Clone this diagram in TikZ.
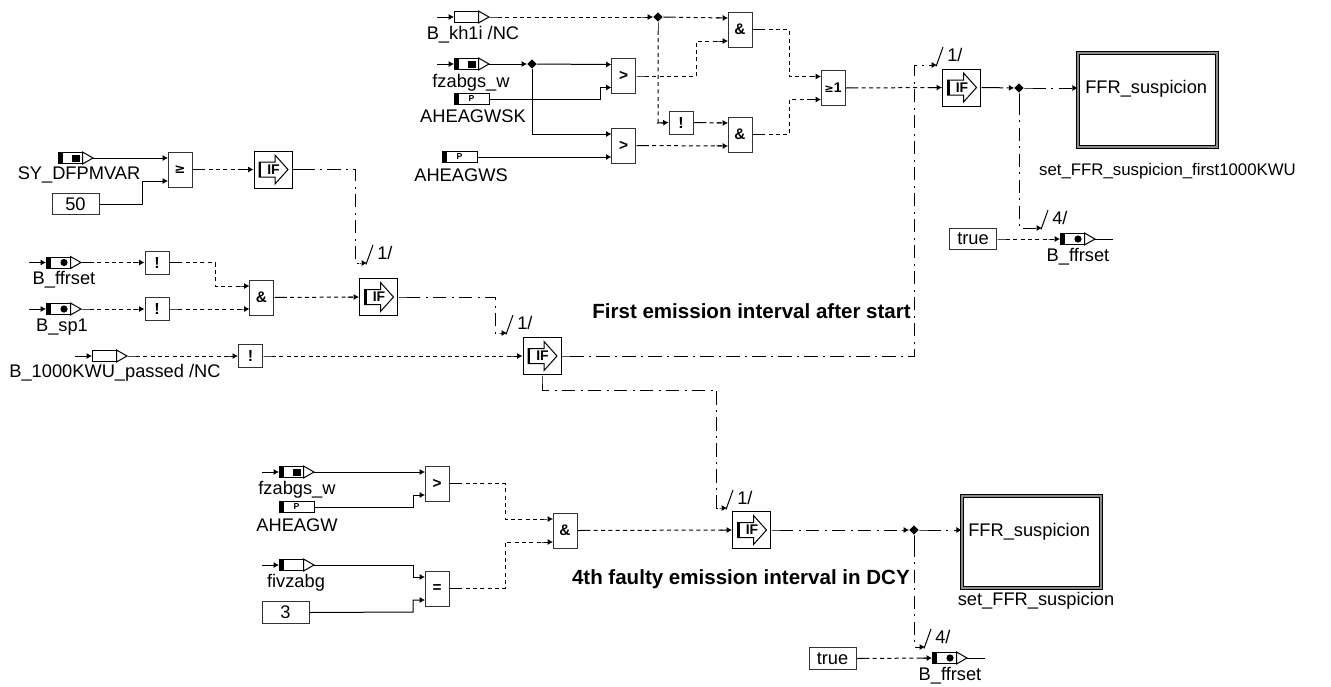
\documentclass[tikz,border=0pt]{standalone}
\usepackage{fontspec}
\setmainfont{Liberation Sans}
\newfontfamily\symfont{DejaVu Sans}
\usetikzlibrary{arrows.meta,shapes.geometric}
\tikzset{
  wire/.style={line width=.75pt},
  num/.style={wire,-{Latex[length=4pt,width=4.5pt]}},
  bool/.style={wire,dash pattern=on 3pt off 2.5pt,{Rectangle[length=7pt,width=.75pt]}-{Rectangle[length=5pt,width=.75pt]Latex[length=4pt,width=4.5pt]}},
  act/.style={wire,dash pattern=on 10pt off 4pt on 1.5pt off 4pt,{Rectangle[length=7pt,width=.75pt]}-{Rectangle[length=2pt,width=.75pt]Latex[length=4pt,width=4.5pt]}},
  gatebox/.style={draw=black!80,line width=.75pt,fill=white,minimum width=18pt,minimum height=26.25pt,inner sep=0pt,font=\fontsize{11.5}{11.5}\selectfont\bfseries},
  notbox/.style={draw=black!80,line width=.75pt,fill=white,minimum width=18pt,minimum height=17.25pt,inner sep=0pt,font=\fontsize{12}{12}\selectfont\bfseries},
  ifbox/.style={draw=black,line width=.75pt,fill=white,minimum width=28.5pt,minimum height=27.75pt,inner sep=0pt},
  portbody/.style={draw=black,line width=.75pt,fill=white,minimum width=18pt,minimum height=8.25pt,inner sep=0pt},
  parbody/.style={draw=black,line width=.75pt,fill=white,minimum width=26.25pt,minimum height=8.25pt,inner sep=0pt},
  constbox/.style={draw=black!80,line width=.75pt,fill=white,minimum width=35.25pt,minimum height=16pt,inner sep=0pt,font=\fontsize{13.7}{13.7}\selectfont},
  lab/.style={inner sep=0pt,font=\fontsize{13.7}{13.7}\selectfont},
  smalllab/.style={inner sep=0pt,font=\fontsize{12.6}{12.6}\selectfont},
  heading/.style={inner sep=0pt,font=\fontsize{15.4}{15.4}\selectfont\bfseries},
  block/.style={draw=black,line width=.6pt,double=black!45,double distance=1.5pt,fill=white,inner sep=0pt},
  junction/.style={diamond,aspect=1,fill=black,inner sep=0pt,minimum size=7pt},
}
\newcommand{\sigport}[3]{%
  \node[portbody] (#1) at (#2+12,#3) {};
  \coordinate (#1-in) at (#2,#3);
  \coordinate (#1-out) at (#2+35,#3);
  \coordinate (#1-src) at (#2-17,#3);
  \draw[line width=.75pt,fill=white] (#1.north east) -- (#1-out) -- (#1.south east) -- cycle;}
\newcommand{\pband}[2]{\fill (#1,#2-5.5) rectangle (#1+5,#2+5.5);}
\newcommand{\psq}[2]{\fill (#1+14,#2-3.5) rectangle (#1+21.5,#2+3.5);}
\newcommand{\pdot}[2]{\fill (#1+18,#2) circle (3.6);}
\newcommand{\parport}[3]{%
  \node[parbody] (#1) at (#2+17.5,#3) {};
  \coordinate (#1-out) at (#2+35,#3);
  \pband{#2}{#3}
  \node[inner sep=0pt,font=\fontsize{6.5}{6.5}\selectfont\bfseries] (#1-p) at (#2+17.5,#3) {P};}
\newcommand{\gate}[4]{%
  \node[gatebox] (#1) at (#2,#3) {#4};
  \coordinate (#1-a) at (#2-12,#3-11.5);
  \coordinate (#1-b) at (#2-12,#3+11.5);}
\newcommand{\ifblock}[3]{%
  \node[ifbox] (#1) at (#2,#3) {};
  \draw[line width=.75pt,fill=white] (#2-14,#3-7.5) -- (#2+2,#3-7.5) -- (#2+2,#3-14.5) -- (#2+15,#3) -- (#2+2,#3+14.5) -- (#2+2,#3+7.5) -- (#2-14,#3+7.5) -- cycle;
  \draw[line width=1.5pt] (#2-13,#3-7.5) -- (#2-13,#3+7.5);
  \node[inner sep=0pt,font=\fontsize{10.5}{10.5}\selectfont\bfseries] (#1-t) at (#2+0.5,#3) {IF};}
\newcommand{\ctl}[4]{%
  \coordinate (#1) at (#2,#3);
  \draw[line width=.75pt] (#2-1,#3+1.5) -- (#2+6,#3-18);
  \node[inner sep=0pt,anchor=west,font=\fontsize{13.7}{13.7}\selectfont] (#1-t) at (#2+10,#3-10) {#4};}
\begin{document}
\begin{tikzpicture}[x=.75pt,y=-.75pt]
\useasboundingbox (0,0) rectangle (1331,686);
% ---------- top logic
\sigport{kh}{454}{17}
\sigport{fzt}{454}{64} \pband{454}{64} \psq{454}{64}
\parport{ask}{454}{99}
\parport{asw}{442}{157}
\node[lab] (lkh) at (473,35) {B\_kh1i /NC};
\node[lab] (lfzt) at (471,83) {fzabgs\_w};
\node[lab] (lask) at (473,116) {AHEAGWSK};
\node[lab] (lasw) at (461,175) {AHEAGWS};
\gate{gt1}{623.5}{76}{>}
\gate{gt2}{623.5}{145.5}{>}
\gate{and1}{740}{29.5}{\&}
\gate{and2}{740}{134.5}{\&}
\gate{or1}{833}{88}{{\symfont\fontsize{8.5}{8.5}\selectfont ≥}{\fontsize{10.5}{10.5}\selectfont 1}}
\node[notbox] (not3) at (681,122.5) {!};
\ifblock{ifa}{961.5}{87.5}
\node[junction] (j1) at (658,17) {};
\node[junction] (j2) at (532,64) {};
\node[junction] (j3) at (1019,88) {};
\draw[num] (kh-src) -- (kh-in);
\draw[num] (fzt-src) -- (fzt-in);
\draw[bool] (kh-out) -- (j1);
\draw[bool] (j1) -- (and1-a);
\draw[bool] (j1) -- (658,123) -- (not3.west);
\draw[num] (fzt-out) -- (j2);
\draw[num] (j2) -- (gt1-a);
\draw[num] (j2) -- (532,134) -- (gt2-a);
\draw[num] (ask-out) -- (600,99) -- (600,87.5) -- (gt1-b);
\draw[num] (asw-out) -- (gt2-b);
\draw[bool] (gt1.east) -- (696,76) -- (696,41) -- (and1-b);
\draw[bool] (not3.east) -- (and2-a);
\draw[bool] (gt2.east) -- (and2-b);
\draw[bool] (and1.east) -- (789,29.5) -- (789,76.5) -- (or1-a);
\draw[bool] (and2.east) -- (789,134.5) -- (789,99.5) -- (or1-b);
\draw[bool] (or1.east) -- (ifa.west);
\draw[act] (ifa.east) -- (j3);
% ---------- output block 1
\node[block,minimum width=104pt,minimum height=70.5pt] (fb1) at (1147.5,100) {};
\node[lab,anchor=west] (fb1t) at (1085,89) {FFR\_suspicion};
\draw[act] (j3) -- (fb1.west |- j3);
\node[smalllab] (fb1l) at (1167.5,171) {set\_FFR\_suspicion\_first1000KWU};
\node[constbox] (tr1) at (973,239) {true};
\sigport{out1}{1060}{239} \pband{1060}{239} \pdot{1060}{239}
\coordinate (out1-end) at (1113,239);
\node[lab] (lout1) at (1078,257) {B\_ffrset};
\draw[bool] (tr1.east) -- (out1-in);
\draw[wire] (out1-out) -- (out1-end);
\ctl{c4a}{1042}{228}{4/}
\draw[act] (j3) -- (1019,228) -- (c4a);
% ---------- left logic
\sigport{sy}{58}{158} \pband{58}{158} \psq{58}{158}
\node[lab] (lsy) at (79,175) {SY\_DFPMVAR};
\node[constbox] (k50) at (75.5,204) {50};
\gate{ge}{180}{169.5}{{\symfont\fontsize{10}{10}\selectfont ≥}}
\ifblock{ifb}{273}{169.5}
\draw[num] (sy-out) -- (ge-a);
\draw[num] (k50.east) -- (142,204) -- (142,181) -- (ge-b);
\draw[bool] (ge.east) -- (ifb.west);
\sigport{ff}{46}{262.5} \pband{46}{262.5} \pdot{46}{262.5}
\node[lab] (lff) at (64,280) {B\_ffrset};
\sigport{sp}{46}{309} \pband{46}{309} \pdot{46}{309}
\node[lab] (lsp) at (62,327) {B\_sp1};
\node[notbox] (not1) at (157,262.5) {!};
\node[notbox] (not2) at (157,309) {!};
\gate{and3}{261.5}{297.5}{\&}
\ifblock{ifc}{378.5}{297}
\draw[num] (ff-src) -- (ff-in);
\draw[num] (sp-src) -- (sp-in);
\draw[bool] (ff-out) -- (not1.west);
\draw[bool] (sp-out) -- (not2.west);
\draw[bool] (not1.east) -- (215,262.5) -- (215,286) -- (and3-a);
\draw[bool] (not2.east) -- (and3-b);
\draw[bool] (and3.east) -- (ifc.west);
\ctl{c1b}{367}{263}{1/}
\draw[act] (ifb.east) -- (355,169.5) -- (355,263) -- (c1b);
\sigport{pas}{92}{356}
\node[lab] (lpas) at (115,373) {B\_1000KWU\_passed /NC};
\draw[num] (pas-src) -- (pas-in);
\node[notbox] (not4) at (250.5,356) {!};
\draw[bool] (pas-out) -- (not4.west);
\ifblock{ifd}{542}{356}
\draw[bool] (not4.east) -- (ifd.west);
\ctl{c1c}{507}{333}{1/}
\draw[act] (ifc.east) -- (495,297) -- (495,333) -- (c1c);
\ctl{c1a}{937}{65}{1/}
\draw[act] (ifd.east) -- (914.5,356) -- (914.5,65) -- (c1a);
\node[heading,anchor=east] (h1) at (911,311) {First emission interval after start};
% ---------- lower logic
\sigport{fzb}{279}{472} \pband{279}{472} \psq{279}{472}
\node[lab] (lfzb) at (297,490) {fzabgs\_w};
\parport{agw}{279}{507}
\node[lab] (lagw) at (297,525) {AHEAGW};
\sigport{fiv}{279}{565} \pband{279}{565}
\node[lab] (lfiv) at (296,583) {fivzabg};
\node[constbox] (k3) at (285.5,612.5) {3};
\gate{gt3}{437}{483.5}{>}
\gate{eq}{437}{588.5}{=}
\gate{and4}{565}{530.5}{\&}
\ifblock{ife}{751.5}{530}
\draw[num] (fzb-src) -- (fzb-in);
\draw[num] (fiv-src) -- (fiv-in);
\draw[num] (fzb-out) -- (gt3-a);
\draw[num] (agw-out) -- (413,507) -- (413,495) -- (gt3-b);
\draw[num] (fiv-out) -- (413,565) -- (413,577) -- (eq-a);
\draw[num] (k3.east) -- (413,612) -- (413,600) -- (eq-b);
\draw[bool] (gt3.east) -- (505,483.5) -- (505,519) -- (and4-a);
\draw[bool] (eq.east) -- (505,588.5) -- (505,542) -- (and4-b);
\draw[bool] (and4.east) -- (ife.west);
\ctl{c1d}{727}{508}{1/}
\draw[act] (ifd.south) -- (542,390) -- (716.5,390) -- (716.5,508) -- (c1d);
\node[heading,anchor=east] (h2) at (910,579) {4th faulty emission interval in DCY};
\node[junction] (j4) at (914,530) {};
\draw[act] (ife.east) -- (j4);
\node[block,minimum width=104pt,minimum height=69pt] (fb2) at (1031.5,542) {};
\node[lab,anchor=west] (fb2t) at (968,532) {FFR\_suspicion};
\draw[act] (j4) -- (fb2.west |- j4);
\node[lab] (fb2l) at (1036,601) {set\_FFR\_suspicion};
\node[constbox] (tr2) at (832.5,658.5) {true};
\sigport{out2}{932}{658} \pband{932}{658} \pdot{932}{658}
\coordinate (out2-end) at (985,658);
\node[lab] (lout2) at (950,676) {B\_ffrset};
\draw[bool] (tr2.east) -- (out2-in);
\draw[wire] (out2-out) -- (out2-end);
\ctl{c4b}{925}{647}{4/}
\draw[act] (j4) -- (914,647) -- (c4b);
\end{tikzpicture}
\end{document}
